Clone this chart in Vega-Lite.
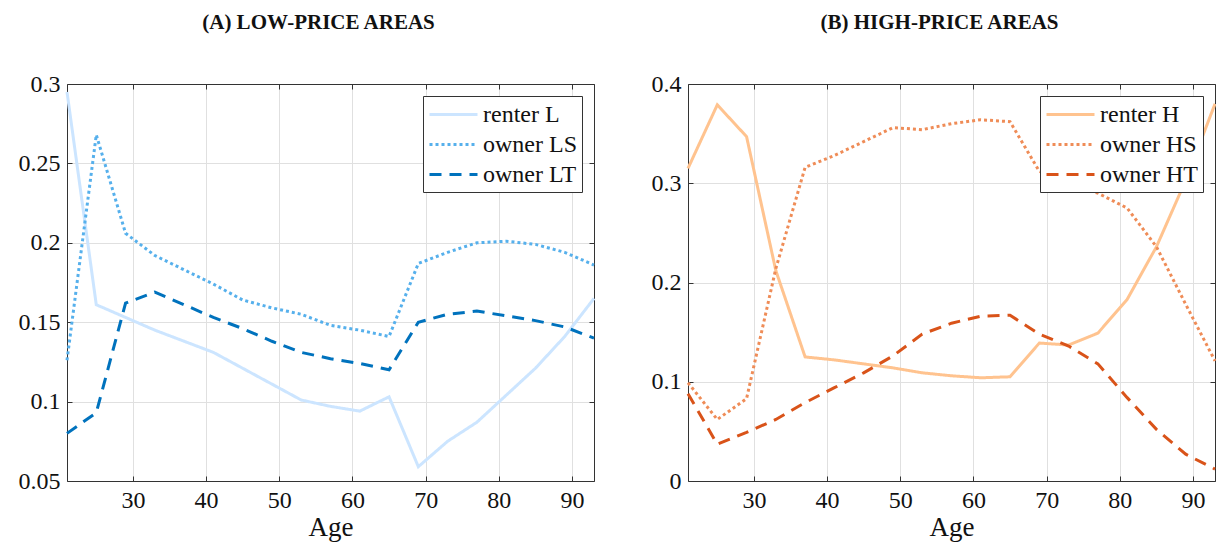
{
  "$schema": "https://vega.github.io/schema/vega-lite/v6.json",
  "padding": {"left": 18, "top": 12, "right": 1, "bottom": 5},
  "bounds": "flush",
  "spacing": 94,
  "config": {
    "font": "Liberation Serif",
    "view": {"stroke": null},
    "style": {"guide-label": {"font": "Liberation Serif", "fontSize": 24, "fill": "#111111"}, "guide-title": {"font": "Liberation Serif"}},
    "title": {"font": "Liberation Serif", "fontSize": 21, "fontWeight": "bold", "color": "#111111", "anchor": "middle", "frame": "group", "dx": -12, "baseline": "alphabetic", "offset": 39, "letterSpacing": 1},
    "axis": {"labelFont": "Liberation Serif", "titleFont": "Liberation Serif", "labelFontSize": 24, "titleFontSize": 27, "titleFontWeight": "normal", "labelColor": "#111111", "titleColor": "#111111", "domainColor": "#333333", "tickColor": "#333333", "gridColor": "#e0e0e0", "tickSize": -5, "labelPadding": 12, "titlePadding": 2},
    "legend": {"orient": "top-right", "offset": 12, "symbolType": "M-1,0H3", "symbolSize": 576, "symbolStrokeWidth": 3, "labelFontSize": 24, "labelFont": "Liberation Serif", "labelColor": "#111111", "labelOffset": 28, "padding": 5, "rowPadding": 4, "strokeColor": "#333333", "fillColor": "#ffffff", "labelLimit": 300}
  },
  "resolve": {"scale": {"color": "independent", "strokeDash": "independent"}, "legend": {"color": "independent", "strokeDash": "independent"}},
  "hconcat": [
    {
      "title": {"text": "(A) LOW-PRICE AREAS"},
      "width": 527,
      "height": 397,
      "data": {"values": [
        {"series": "renter L", "age": 21, "value": 0.295},
        {"series": "renter L", "age": 25, "value": 0.161},
        {"series": "renter L", "age": 29, "value": 0.153},
        {"series": "renter L", "age": 33, "value": 0.145},
        {"series": "renter L", "age": 37, "value": 0.138},
        {"series": "renter L", "age": 41, "value": 0.131},
        {"series": "renter L", "age": 45, "value": 0.121},
        {"series": "renter L", "age": 49, "value": 0.111},
        {"series": "renter L", "age": 53, "value": 0.101},
        {"series": "renter L", "age": 57, "value": 0.097},
        {"series": "renter L", "age": 61, "value": 0.094},
        {"series": "renter L", "age": 65, "value": 0.103},
        {"series": "renter L", "age": 69, "value": 0.059},
        {"series": "renter L", "age": 73, "value": 0.075},
        {"series": "renter L", "age": 77, "value": 0.087},
        {"series": "renter L", "age": 81, "value": 0.104},
        {"series": "renter L", "age": 85, "value": 0.121},
        {"series": "renter L", "age": 89, "value": 0.141},
        {"series": "renter L", "age": 93, "value": 0.165},
        {"series": "owner LS", "age": 21, "value": 0.126},
        {"series": "owner LS", "age": 25, "value": 0.268},
        {"series": "owner LS", "age": 29, "value": 0.206},
        {"series": "owner LS", "age": 33, "value": 0.192},
        {"series": "owner LS", "age": 37, "value": 0.183},
        {"series": "owner LS", "age": 41, "value": 0.174},
        {"series": "owner LS", "age": 45, "value": 0.164},
        {"series": "owner LS", "age": 49, "value": 0.159},
        {"series": "owner LS", "age": 53, "value": 0.155},
        {"series": "owner LS", "age": 57, "value": 0.148},
        {"series": "owner LS", "age": 61, "value": 0.145},
        {"series": "owner LS", "age": 65, "value": 0.141},
        {"series": "owner LS", "age": 69, "value": 0.187},
        {"series": "owner LS", "age": 73, "value": 0.194},
        {"series": "owner LS", "age": 77, "value": 0.2},
        {"series": "owner LS", "age": 81, "value": 0.201},
        {"series": "owner LS", "age": 85, "value": 0.199},
        {"series": "owner LS", "age": 89, "value": 0.194},
        {"series": "owner LS", "age": 93, "value": 0.186},
        {"series": "owner LT", "age": 21, "value": 0.08},
        {"series": "owner LT", "age": 25, "value": 0.093},
        {"series": "owner LT", "age": 29, "value": 0.162},
        {"series": "owner LT", "age": 33, "value": 0.169},
        {"series": "owner LT", "age": 37, "value": 0.161},
        {"series": "owner LT", "age": 41, "value": 0.153},
        {"series": "owner LT", "age": 45, "value": 0.146},
        {"series": "owner LT", "age": 49, "value": 0.138},
        {"series": "owner LT", "age": 53, "value": 0.131},
        {"series": "owner LT", "age": 57, "value": 0.127},
        {"series": "owner LT", "age": 61, "value": 0.124},
        {"series": "owner LT", "age": 65, "value": 0.12},
        {"series": "owner LT", "age": 69, "value": 0.15},
        {"series": "owner LT", "age": 73, "value": 0.155},
        {"series": "owner LT", "age": 77, "value": 0.157},
        {"series": "owner LT", "age": 81, "value": 0.154},
        {"series": "owner LT", "age": 85, "value": 0.151},
        {"series": "owner LT", "age": 89, "value": 0.147},
        {"series": "owner LT", "age": 93, "value": 0.14}
      ]},
      "layer": [
        {
          "mark": {"type": "line", "strokeWidth": 3, "strokeCap": "butt"},
          "encoding": {
            "x": {"field": "age", "type": "quantitative", "scale": {"domain": [21, 93], "nice": false, "zero": false}, "axis": {"orient": "bottom", "title": "Age", "values": [30, 40, 50, 60, 70, 80, 90], "grid": true, "labelFont": "Liberation Serif"}},
            "y": {"field": "value", "type": "quantitative", "scale": {"domain": [0.05, 0.3], "nice": false, "zero": false}, "axis": {"orient": "left", "title": null, "values": [0.05, 0.1, 0.15, 0.2, 0.25, 0.3], "format": "~g", "grid": true, "labelFont": "Liberation Serif"}},
            "color": {"field": "series", "type": "nominal", "scale": {"domain": ["renter L", "owner LS", "owner LT"], "range": ["#cce5ff", "#56b0ec", "#0072bd"]}, "legend": {"title": null, "labelFont": "Liberation Serif"}},
            "strokeDash": {"field": "series", "type": "nominal", "scale": {"domain": ["renter L", "owner LS", "owner LT"], "range": [[1, 0], [3, 3], [12, 8]]}, "legend": {"title": null, "labelFont": "Liberation Serif"}}
          }
        },
        {
          "mark": {"type": "line", "opacity": 0},
          "encoding": {
            "x": {"field": "age", "type": "quantitative", "axis": {"orient": "top", "title": null, "labels": false, "grid": false, "values": [30, 40, 50, 60, 70, 80, 90]}},
            "y": {"field": "value", "type": "quantitative", "axis": {"orient": "right", "title": null, "labels": false, "grid": false, "values": [0.05, 0.1, 0.15, 0.2, 0.25, 0.3]}}
          }
        }
      ],
      "resolve": {"axis": {"x": "independent", "y": "independent"}}
    },
    {
      "title": {"text": "(B) HIGH-PRICE AREAS"},
      "width": 527,
      "height": 397,
      "data": {"values": [
        {"series": "renter H", "age": 21, "value": 0.315},
        {"series": "renter H", "age": 25, "value": 0.379},
        {"series": "renter H", "age": 29, "value": 0.347},
        {"series": "renter H", "age": 33, "value": 0.212},
        {"series": "renter H", "age": 37, "value": 0.125},
        {"series": "renter H", "age": 41, "value": 0.122},
        {"series": "renter H", "age": 45, "value": 0.118},
        {"series": "renter H", "age": 49, "value": 0.114},
        {"series": "renter H", "age": 53, "value": 0.109},
        {"series": "renter H", "age": 57, "value": 0.106},
        {"series": "renter H", "age": 61, "value": 0.104},
        {"series": "renter H", "age": 65, "value": 0.105},
        {"series": "renter H", "age": 69, "value": 0.139},
        {"series": "renter H", "age": 73, "value": 0.137},
        {"series": "renter H", "age": 77, "value": 0.149},
        {"series": "renter H", "age": 81, "value": 0.183},
        {"series": "renter H", "age": 85, "value": 0.236},
        {"series": "renter H", "age": 89, "value": 0.303},
        {"series": "renter H", "age": 93, "value": 0.38},
        {"series": "owner HS", "age": 21, "value": 0.099},
        {"series": "owner HS", "age": 25, "value": 0.062},
        {"series": "owner HS", "age": 29, "value": 0.083},
        {"series": "owner HS", "age": 33, "value": 0.214},
        {"series": "owner HS", "age": 37, "value": 0.316},
        {"series": "owner HS", "age": 41, "value": 0.328},
        {"series": "owner HS", "age": 45, "value": 0.342},
        {"series": "owner HS", "age": 49, "value": 0.356},
        {"series": "owner HS", "age": 53, "value": 0.354},
        {"series": "owner HS", "age": 57, "value": 0.36},
        {"series": "owner HS", "age": 61, "value": 0.364},
        {"series": "owner HS", "age": 65, "value": 0.362},
        {"series": "owner HS", "age": 69, "value": 0.312},
        {"series": "owner HS", "age": 73, "value": 0.3},
        {"series": "owner HS", "age": 77, "value": 0.29},
        {"series": "owner HS", "age": 81, "value": 0.275},
        {"series": "owner HS", "age": 85, "value": 0.236},
        {"series": "owner HS", "age": 89, "value": 0.178},
        {"series": "owner HS", "age": 93, "value": 0.121},
        {"series": "owner HT", "age": 21, "value": 0.088},
        {"series": "owner HT", "age": 25, "value": 0.037},
        {"series": "owner HT", "age": 29, "value": 0.049},
        {"series": "owner HT", "age": 33, "value": 0.062},
        {"series": "owner HT", "age": 37, "value": 0.079},
        {"series": "owner HT", "age": 41, "value": 0.094},
        {"series": "owner HT", "age": 45, "value": 0.109},
        {"series": "owner HT", "age": 49, "value": 0.126},
        {"series": "owner HT", "age": 53, "value": 0.148},
        {"series": "owner HT", "age": 57, "value": 0.159},
        {"series": "owner HT", "age": 61, "value": 0.166},
        {"series": "owner HT", "age": 65, "value": 0.167},
        {"series": "owner HT", "age": 69, "value": 0.148},
        {"series": "owner HT", "age": 73, "value": 0.136},
        {"series": "owner HT", "age": 77, "value": 0.118},
        {"series": "owner HT", "age": 81, "value": 0.084},
        {"series": "owner HT", "age": 85, "value": 0.052},
        {"series": "owner HT", "age": 89, "value": 0.027},
        {"series": "owner HT", "age": 93, "value": 0.012}
      ]},
      "layer": [
        {
          "mark": {"type": "line", "strokeWidth": 3, "strokeCap": "butt"},
          "encoding": {
            "x": {"field": "age", "type": "quantitative", "scale": {"domain": [21, 93], "nice": false, "zero": false}, "axis": {"orient": "bottom", "title": "Age", "values": [30, 40, 50, 60, 70, 80, 90], "grid": true, "labelFont": "Liberation Serif"}},
            "y": {"field": "value", "type": "quantitative", "scale": {"domain": [0, 0.4], "nice": false, "zero": false}, "axis": {"orient": "left", "title": null, "values": [0, 0.1, 0.2, 0.3, 0.4], "format": "~g", "grid": true, "labelFont": "Liberation Serif"}},
            "color": {"field": "series", "type": "nominal", "scale": {"domain": ["renter H", "owner HS", "owner HT"], "range": ["#ffc38f", "#ef8c57", "#d95319"]}, "legend": {"title": null, "labelFont": "Liberation Serif"}},
            "strokeDash": {"field": "series", "type": "nominal", "scale": {"domain": ["renter H", "owner HS", "owner HT"], "range": [[1, 0], [3, 3], [12, 8]]}, "legend": {"title": null, "labelFont": "Liberation Serif"}}
          }
        },
        {
          "mark": {"type": "line", "opacity": 0},
          "encoding": {
            "x": {"field": "age", "type": "quantitative", "axis": {"orient": "top", "title": null, "labels": false, "grid": false, "values": [30, 40, 50, 60, 70, 80, 90]}},
            "y": {"field": "value", "type": "quantitative", "axis": {"orient": "right", "title": null, "labels": false, "grid": false, "values": [0, 0.1, 0.2, 0.3, 0.4]}}
          }
        }
      ],
      "resolve": {"axis": {"x": "independent", "y": "independent"}}
    }
  ]
}
